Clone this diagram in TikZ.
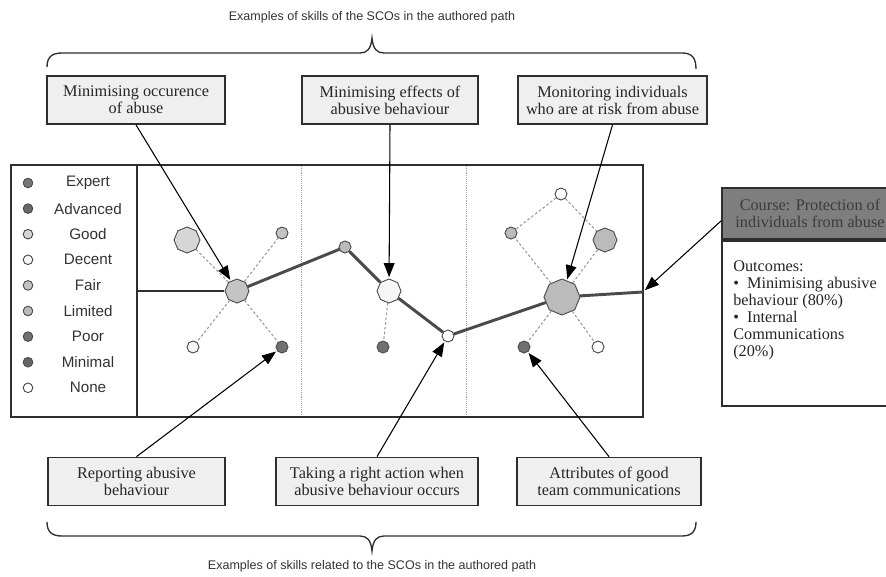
\documentclass[tikz,border=0pt]{standalone}
\usepackage{fontspec}
\setmainfont{Liberation Serif}
\setsansfont{Liberation Sans}
\usetikzlibrary{shapes.geometric,arrows.meta}

\definecolor{boxfill}{HTML}{EFEFEF}
\definecolor{ink}{HTML}{2E2E2E}
\definecolor{pathgray}{HTML}{4A4A4A}
\definecolor{lvexpert}{HTML}{767676}
\definecolor{lvadvanced}{HTML}{686868}
\definecolor{lvgood}{HTML}{D6D6D6}
\definecolor{lvdecent}{HTML}{F6F6F6}
\definecolor{lvfair}{HTML}{C4C4C4}
\definecolor{lvlimited}{HTML}{BBBBBB}
\definecolor{lvpoor}{HTML}{707070}
\definecolor{lvminimal}{HTML}{666666}
\definecolor{lvnone}{HTML}{FFFFFF}
\definecolor{headfill}{HTML}{7E7E7E}
\definecolor{headtext}{HTML}{3C3C3C}

\begin{document}
\begin{tikzpicture}[x=0.75pt,y=-0.75pt,
  skillbox/.style={draw=ink, line width=1.3pt, fill=boxfill, minimum height=36pt,
    align=center, inner sep=1pt, font=\fontsize{12.2}{12.8}\selectfont, text=black!85},
  lvl/.style={regular polygon, regular polygon sides=8, shape border rotate=22.5,
    draw=black!70, line width=0.7pt, inner sep=0pt, minimum size=#1},
  legendtext/.style={font=\sffamily\fontsize{11.4}{13}\selectfont, text=black!80},
  captiontext/.style={font=\sffamily\fontsize{9.4}{11}\selectfont, text=black!80},
  pointer/.style={draw=black, line width=0.8pt, -{Triangle[length=10.5pt,width=8pt]}, shorten >=1pt},
  trail/.style={draw=pathgray, line width=2.2pt},
  tie/.style={draw=black!40, line width=0.8pt, dash pattern=on 2pt off 1.6pt},
  lane/.style={draw=black!35, line width=0.6pt, dash pattern=on 0.6pt off 0.8pt},
  bracket/.style={draw=ink, line width=1pt},
]
\useasboundingbox (0,0) rectangle (886,576);

% captions and braces
\node[captiontext] (toptitle) at (372,17) {Examples of skills of the SCOs in the authored path};
\node[captiontext] (bottitle) at (372,566) {Examples of skills related to the SCOs in the authored path};
\draw[bracket] (47,67) .. controls (47,57) and (52,53) .. (62,53) -- (360,53)
  .. controls (367,53) and (371,49) .. (372,38) .. controls (373,49) and (377,53) .. (384,53)
  -- (682,53) .. controls (692,53) and (696,58) .. (696,69);
\draw[bracket] (47,522) .. controls (47,532) and (52,536) .. (62,536) -- (360,536)
  .. controls (367,536) and (371,540) .. (372,551) .. controls (373,540) and (377,536) .. (384,536)
  -- (682,536) .. controls (692,536) and (696,531) .. (696,522);

% legend panel and skill map frame
\draw[ink, line width=1.2pt] (11,165) rectangle (137,417);
\draw[lane] (301,166) -- (301,416);
\draw[lane] (466,166) -- (466,416);
\draw[ink, line width=1.6pt] (137,165) rectangle (643,417);

% legend
\foreach \lab/\col [count=\i from 0] in {Expert/lvexpert, Advanced/lvadvanced, Good/lvgood,
    Decent/lvdecent, Fair/lvfair, Limited/lvlimited, Poor/lvpoor, Minimal/lvminimal, None/lvnone} {
  \node[lvl=7.2pt, fill=\col] (key\i) at (28,{183+25.6*\i}) {};
  \node[legendtext] (keytext\i) at (88,{183+25.6*\i}) {\lab};
}

% skill levels in the map
\node[lvl=18pt, fill=lvfair]    (n1)  at (237,291) {};
\node[lvl=19.5pt, fill=lvgood]  (s1a) at (187,240) {};
\node[lvl=9pt, fill=lvfair]     (s1b) at (282,233) {};
\node[lvl=9pt, fill=lvdecent]   (s1c) at (193,347) {};
\node[lvl=9pt, fill=lvpoor]     (s1d) at (282,347) {};
\node[lvl=9pt, fill=lvlimited]  (w1)  at (345,247) {};
\node[lvl=18pt, fill=lvdecent]  (n2)  at (389,291) {};
\node[lvl=9pt, fill=lvpoor]     (s2a) at (383,347) {};
\node[lvl=9pt, fill=lvnone]     (w2)  at (448,336) {};
\node[lvl=27pt, fill=lvlimited] (n3)  at (562,297) {};
\node[lvl=9pt, fill=lvnone]     (s3a) at (561,194) {};
\node[lvl=9pt, fill=lvlimited]  (s3b) at (511,233) {};
\node[lvl=18pt, fill=lvlimited] (s3c) at (605,240) {};
\node[lvl=9pt, fill=lvpoor]     (s3d) at (524,347) {};
\node[lvl=9pt, fill=lvnone]     (s3e) at (598,347) {};
\coordinate (entry) at (137,291);
\coordinate (rim) at (643,292);

% related skills
\draw[tie] (n1) -- (s1a);
\draw[tie] (n1) -- (s1b);
\draw[tie] (n1) -- (s1c);
\draw[tie] (n1) -- (s1d);
\draw[tie] (n2) -- (s2a);
\draw[tie] (n3) -- (s3b);
\draw[tie] (n3) -- (s3c);
\draw[tie] (n3) -- (s3d);
\draw[tie] (n3) -- (s3e);
\draw[tie] (s3a) -- (s3b);
\draw[tie] (s3a) -- (s3c);

% authored path
\draw[ink, line width=1.4pt] (entry) -- (n1);
\draw[trail] (n1) -- (w1);
\draw[trail] (w1) -- (n2);
\draw[trail] (n2) -- (w2);
\draw[trail] (w2) -- (n3);
\draw[trail] (n3) -- (rim);

% skill boxes
\node[skillbox, minimum width=133.5pt] (b1) at (136,100) {Minimising occurence\\of abuse};
\node[skillbox, minimum width=132pt]   (b2) at (390,100) {Minimising effects of\\abusive behaviour};
\node[skillbox, minimum width=141.7pt] (b3) at (612.5,100) {Monitoring individuals\\who are at risk from abuse};
\node[skillbox, minimum width=133pt]   (b4) at (136.5,481.5) {Reporting abusive\\behaviour};
\node[skillbox, minimum width=151.5pt] (b5) at (377,481.5) {Taking a right action when\\abusive behaviour occurs};
\node[skillbox, minimum width=138pt]   (b6) at (609,481.5) {Attributes of good\\team communications};

\draw[pointer] (b1.south) -- (n1);
\draw[pointer] (b2.south) -- (n2);
\draw[pointer] (b3.south) -- (n3);
\draw[pointer] (b4.north) -- (s1d);
\draw[pointer] (b5.north) -- (w2);
\draw[pointer] (b6.north) -- (s3d);

% course panel
\node[draw=ink, line width=1.5pt, fill=white, minimum width=132pt, minimum height=123.75pt,
  anchor=north west, inner sep=0pt] (body) at (721,240) {};
\node[draw=ink, line width=1.5pt, fill=headfill, minimum width=132pt, minimum height=38.25pt,
  anchor=south west, inner sep=0pt, align=center, text=headtext,
  font=\fontsize{12.2}{12.8}\selectfont] (head) at (721,240)
  {Course: Protection of\\individuals from abuse};
\node[anchor=north west, inner sep=0pt, align=left, text=black!85,
  font=\fontsize{12.2}{12.75}\selectfont] (outcomes) at (733,260)
  {Outcomes:\\\textbullet\ \ Minimising abusive\\behaviour (80\%)\\\textbullet\ \ Internal\\Communications\\(20\%)};
\draw[pointer, shorten >=2pt] ([yshift=-5.6pt]head.west) -- (rim);
\end{tikzpicture}
\end{document}
